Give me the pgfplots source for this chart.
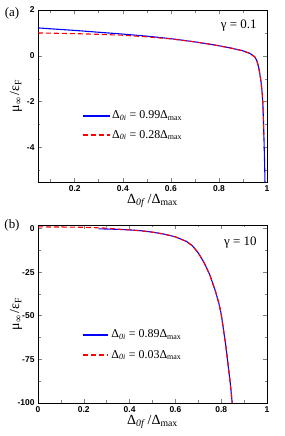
\documentclass[border=0pt]{standalone}
\usepackage{pgfplots}
\pgfplotsset{compat=1.18}
\usepackage{fontspec}
\setmainfont{Liberation Serif}
\newfontfamily\tickfont{Liberation Sans}
\definecolor{myblue}{RGB}{0,0,255}
\definecolor{myred}{RGB}{255,0,0}
\definecolor{lgblue}{RGB}{2,2,255}
\definecolor{lgred}{RGB}{255,2,2}
\pgfplotsset{
  common/.style={
    scale only axis, width=229bp,
    tick align=inside, tick pos=both,
    major tick length=4bp, minor tick length=2.5bp,
    axis line style={line width=0.8pt},
    tick style={line width=0.6pt},
    tick label style={font=\tickfont\bfseries\fontsize{8.5}{10}\selectfont},
    every axis x label/.style={at={(axis description cs:0.5,0)}, yshift=-19bp, anchor=center, font=\fontsize{14}{16}\selectfont},
    every axis y label/.style={at={(axis description cs:0,0.5)}, xshift=-22bp, rotate=90, anchor=center, font=\fontsize{14}{16}\selectfont},
    clip=true,
  },
  bl/.style={color=myblue, line width=1.1pt},
  rd/.style={color=myred, line width=1.1pt, dash pattern=on 5bp off 3bp},
  lbl/.style={draw=lgblue, line width=1.3pt},
  lrd/.style={draw=lgred, line width=1.3pt, dash pattern=on 5bp off 3bp},
}
\begin{document}
\begin{tikzpicture}
\path[use as bounding box] (0,0) rectangle (285bp,436bp);
\begin{axis}[common, at={(38bp,254bp)}, anchor=south west, height=172bp,
  xmin=0.047, xmax=1, ymin=-5.5, ymax=2,
  xtick={0.2,0.4,0.6,0.8,1}, xticklabels={0.2,0.4,0.6,0.8,1},
  minor xtick={0.1,0.3,0.5,0.7,0.9},
  ytick={-4,-2,0,2}, yticklabels={-4,-2,0,2},
  minor ytick={-5,-3,-1,1},
  xlabel={Δ\textsubscript{\textit{0f}}\,/Δ\textsubscript{max}},
  ylabel={μ\textsubscript{∞}\,/ε\textsubscript{F}},
]
% legend samples
\addplot[lbl] coordinates {(0.233,-2.62) (0.29,-2.62) (0.345,-2.62)};
\addplot[lrd] coordinates {(0.233,-3.45) (0.29,-3.45) (0.345,-3.45)};
\addplot[bl] coordinates {
(0.047,1.22) (0.1,1.18) (0.2,1.11) (0.3,1.03) (0.4,0.95) (0.5,0.86) (0.6,0.75)
(0.7,0.61) (0.75,0.53) (0.8,0.44) (0.85,0.34) (0.9,0.22) (0.93,0.10) (0.95,-0.05)
(0.958,-0.22) (0.965,-0.48) (0.97,-0.78) (0.975,-1.12) (0.98,-1.62) (0.983,-2.15)
(0.985,-2.75) (0.987,-3.45) (0.989,-4.25) (0.991,-5.15) (0.992,-5.8)};
\addplot[rd] coordinates {
(0.047,1.00) (0.1,0.99) (0.2,0.97) (0.3,0.94) (0.4,0.90) (0.5,0.83) (0.6,0.74)
(0.7,0.61) (0.75,0.53) (0.8,0.44) (0.85,0.34) (0.9,0.22) (0.93,0.10) (0.95,-0.05)
(0.958,-0.22) (0.965,-0.48) (0.97,-0.78) (0.975,-1.12) (0.98,-1.62) (0.983,-2.15)
(0.985,-2.75) (0.9865,-3.45)};
\node[anchor=west, font=\fontsize{12}{13}\selectfont, inner sep=0pt] at (axis cs:0.355,-2.62) {Δ\textsubscript{\textit{0i}} = 0.99Δ\textsubscript{max}};
\node[anchor=west, font=\fontsize{12}{13}\selectfont, inner sep=0pt] at (axis cs:0.355,-3.45) {Δ\textsubscript{\textit{0i}} = 0.28Δ\textsubscript{max}};
\node[anchor=east, font=\fontsize{13}{14}\selectfont] at (axis description cs:0.97,0.91) {γ = 0.1};
\end{axis}
\node[font=\fontsize{13}{14}\selectfont] at (12bp,423bp) {(a)};

\begin{axis}[common, at={(38bp,33bp)}, anchor=south west, height=178bp,
  xmin=0, xmax=1, ymin=-100, ymax=2,
  xtick={0,0.2,0.4,0.6,0.8,1}, xticklabels={0,0.2,0.4,0.6,0.8,1},
  minor xtick={0.1,0.3,0.5,0.7,0.9},
  ytick={-100,-75,-50,-25,0}, yticklabels={-100,-75,-50,-25,0},
  minor ytick={-87.5,-62.5,-37.5,-12.5},
  xlabel={Δ\textsubscript{\textit{0f}}\,/Δ\textsubscript{max}},
  ylabel={μ\textsubscript{∞}\,/ε\textsubscript{F}},
]
% legend samples
\addplot[lbl] coordinates {(0.197,-61) (0.25,-61) (0.306,-61)};
\addplot[lrd] coordinates {(0.197,-72.5) (0.25,-72.5) (0.306,-72.5)};
\addplot[bl] coordinates {
(0.265,-0.2) (0.3,-0.3) (0.35,-0.5) (0.4,-0.8) (0.45,-1.3) (0.5,-2.1) (0.55,-3.2)
(0.6,-4.8) (0.65,-7.5) (0.675,-10) (0.7,-14) (0.725,-19.5) (0.75,-26.5) (0.775,-36)
(0.79,-43) (0.8,-49) (0.81,-58) (0.82,-67) (0.83,-78) (0.84,-89) (0.848,-100) (0.85,-103)};
\addplot[rd] coordinates {
(0,0.9) (0.1,0.85) (0.2,0.7) (0.3,0.2) (0.35,-0.4) (0.4,-0.8) (0.45,-1.3) (0.5,-2.1) (0.55,-3.2)
(0.6,-4.8) (0.65,-7.5) (0.675,-10) (0.7,-14) (0.725,-19.5) (0.75,-26.5) (0.775,-36)
(0.79,-43) (0.8,-49) (0.81,-58) (0.82,-67) (0.83,-78) (0.84,-89) (0.848,-100) (0.85,-103)};
\node[anchor=west, font=\fontsize{12}{13}\selectfont, inner sep=0pt] at (axis cs:0.320,-61) {Δ\textsubscript{\textit{0i}} = 0.89Δ\textsubscript{max}};
\node[anchor=west, font=\fontsize{12}{13}\selectfont, inner sep=0pt] at (axis cs:0.320,-72.5) {Δ\textsubscript{\textit{0i}} = 0.03Δ\textsubscript{max}};
\node[anchor=east, font=\fontsize{13}{14}\selectfont] at (axis description cs:0.97,0.9) {γ = 10};
\end{axis}
\node[font=\fontsize{13}{14}\selectfont] at (12bp,211bp) {(b)};
\end{tikzpicture}
\end{document}
